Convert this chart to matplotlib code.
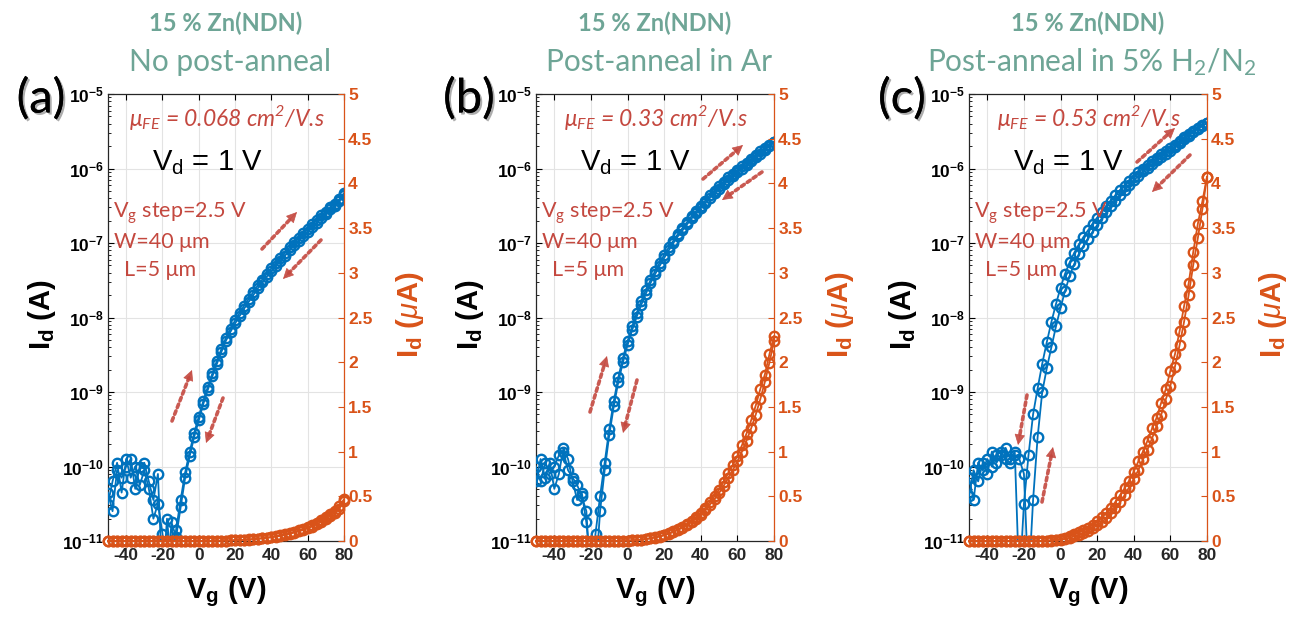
import numpy as np
import matplotlib
matplotlib.use('Agg')
import matplotlib.pyplot as plt
import matplotlib.patheffects as pe
from matplotlib.ticker import FixedLocator, LogLocator, NullFormatter

plt.rcParams['font.family'] = ['Liberation Sans', 'DejaVu Sans']
plt.rcParams['mathtext.fontset'] = 'custom'
plt.rcParams['mathtext.rm'] = 'Liberation Sans'
plt.rcParams['mathtext.it'] = 'Liberation Sans:italic'
plt.rcParams['mathtext.bf'] = 'Liberation Sans:bold'

# ---------------- data ----------------
Vg = [-50, -47.5, -45, -42.5, -40, -37.5, -35, -32.5, -30, -27.5, -25, -22.5, -20,
      -17.5, -15, -12.5, -10, -7.5, -5, -2.5, 0, 2.5, 5, 7.5, 10, 12.5, 15, 17.5,
      20, 22.5, 25, 27.5, 30, 32.5, 35, 37.5, 40, 42.5, 45, 47.5, 50, 52.5, 55,
      57.5, 60, 62.5, 65, 67.5, 70, 72.5, 75, 77.5, 80]

# log10(Id [A]) forward / reverse sweeps
a_fwd = [-10.35, -10.6, -10.05, -10.15, -10.0, -9.9, -10.3, -10.0, -9.95, -10.2,
         -10.45, -10.1, -11.6, -10.7, -11.4,
         -10.85, -10.45, -10.08, -9.8, -9.55, -9.33, -9.12, -8.93, -8.75, -8.58,
         -8.42, -8.27, -8.15, -8.04, -7.94, -7.84, -7.75, -7.66, -7.57, -7.49,
         -7.41, -7.34, -7.27, -7.2, -7.13, -7.06, -6.99, -6.93, -6.87, -6.81,
         -6.75, -6.69, -6.63, -6.58, -6.52, -6.47, -6.41, -6.33]
a_rev = [-10.5, -10.2, -9.95, -10.35, -9.9, -10.15, -10.0, -10.25, -10.05, -10.3,
         -10.7, -10.5, -10.9, -11.5, -10.75,
         -10.95, -10.55, -10.15, -9.86, -9.6, -9.38, -9.16, -8.97, -8.79, -8.62,
         -8.46, -8.31, -8.19, -8.08, -7.98, -7.88, -7.79, -7.7, -7.61, -7.53,
         -7.45, -7.38, -7.31, -7.24, -7.17, -7.1, -7.03, -6.97, -6.91, -6.85,
         -6.79, -6.73, -6.67, -6.61, -6.55, -6.5, -6.44, -6.35]

b_fwd = [-10.0, -10.2, -9.95, -10.1, -10.0, -9.85, -9.8, -10.05, -10.15, -10.25,
         -10.4, -10.6, -11.6,
         -10.9, -10.4, -9.95, -9.5, -9.12, -8.8, -8.54, -8.32, -8.12, -7.94,
         -7.78, -7.63, -7.5, -7.38, -7.27, -7.16, -7.06, -6.97, -6.88, -6.8,
         -6.72, -6.64, -6.57, -6.5, -6.43, -6.36, -6.3, -6.24, -6.18, -6.12,
         -6.07, -6.02, -5.97, -5.92, -5.87, -5.82, -5.77, -5.73, -5.68, -5.64]
b_rev = [-10.2, -9.9, -10.15, -9.95, -10.3, -10.1, -9.75, -9.9, -10.2, -10.45,
         -10.35, -10.75, -11.4, -11.5, -10.6,
         -10.05, -9.58, -9.19, -8.86, -8.6, -8.37, -8.17, -7.99, -7.83, -7.68,
         -7.54, -7.42, -7.31, -7.2, -7.1, -7.0, -6.91, -6.83, -6.75, -6.67,
         -6.6, -6.53, -6.46, -6.39, -6.33, -6.27, -6.21, -6.15, -6.1, -6.05,
         -6.0, -5.95, -5.9, -5.85, -5.8, -5.75, -5.7, -5.65]

c_fwd = [-10.15, -10.45, -9.95, -10.05, -9.9, -10.0, -9.85, -9.8, -9.9, -9.95,
         -9.85, -9.9, -10.1, -11.6, -10.45,
         -9.6, -9.0, -8.68, -8.4, -8.12, -7.87, -7.64, -7.44, -7.28, -7.15,
         -7.04, -6.94, -6.85, -6.76, -6.67, -6.59, -6.51, -6.43, -6.36, -6.29,
         -6.22, -6.16, -6.1, -6.04, -5.99, -5.94, -5.89, -5.85, -5.8, -5.76,
         -5.71, -5.66, -5.61, -5.56, -5.51, -5.47, -5.43, -5.39]
c_rev = [-10.4, -10.05, -10.2, -9.95, -10.1, -9.8, -9.95, -9.85, -9.75, -9.9,
         -9.8, -11.6, -10.5, -9.85, -9.3,
         -8.95, -8.62, -8.33, -8.06, -7.82, -7.6, -7.41, -7.26, -7.13, -7.02,
         -6.92, -6.83, -6.74, -6.66, -6.58, -6.5, -6.43, -6.36, -6.29, -6.23,
         -6.17, -6.11, -6.05, -6.0, -5.95, -5.9, -5.86, -5.81, -5.77, -5.72,
         -5.68, -5.63, -5.58, -5.54, -5.49, -5.45, -5.42, -5.39]

letters = ['(a)', '(b)', '(c)']
titles1 = ['15 % Zn(NDN)', '15 % Zn(NDN)', '15 % Zn(NDN)']
titles2 = ['No post-anneal', 'Post-anneal in Ar',
           'Post-anneal in 5% H$_\\mathregular{2}$/N$_\\mathregular{2}$']
mobility = ['0.068', '0.33', '0.53']
xticks = [-40, -20, 0, 20, 40, 60, 80]
yticks_log = [-11, -10, -9, -8, -7, -6, -5]
yticks_lin = [0, 0.5, 1, 1.5, 2, 2.5, 3, 3.5, 4, 4.5, 5]

# ---------------- style ----------------
W, H = 1291, 622
BLUE = '#0072BD'
ORANGE = '#D95319'
TEAL = '#6EA596'
RED = '#C4483F'
DARK = '#262626'
CAL = ['Lato', 'DejaVu Sans']

fig = plt.figure(figsize=(W / 100, H / 100), dpi=100)


def fx(x):
    return x / W


def fy(y):
    return 1 - y / H


boxes = [(108, 94, 344, 541), (536, 94, 774, 541), (969, 94, 1207, 541)]
series = [(a_fwd, a_rev), (b_fwd, b_rev), (c_fwd, c_rev)]

arrows = [
    [((262, 249), (297, 212)), ((321, 240), (283, 279)),
     ((172, 421), (192, 370)), ((223, 398), (206, 443))],
    [((703, 179), (743, 145)), ((762, 172), (722, 200)),
     ((590, 412), (607, 356)), ((637, 380), (623, 433))],
    [((1137, 162), (1175, 128)), ((1190, 155), (1152, 192)),
     ((1027, 395), (1018, 445)), ((1042, 502), (1053, 447))],
]

mk = dict(marker='o', ms=6.8, mfc='none', mew=1.7, lw=1.3)

vg = np.array(Vg)
for i, (l, t, r, b) in enumerate(boxes):
    ax = fig.add_axes([fx(l), fy(b), fx(r - l), (b - t) / H])
    ax.set_yscale('log')
    ax.set_xlim(-50, 80)
    ax.set_ylim(1e-11, 1e-5)
    fwd, rev = series[i]
    for s in (fwd, rev):
        ax.plot(vg, 10.0 ** np.array(s), color=BLUE, zorder=3, **mk)
    ax.set_axisbelow(True)
    ax.grid(True, which='major', color='#e3e3e3', lw=0.8)
    ax.xaxis.set_major_locator(FixedLocator(xticks))
    ax.set_xticklabels([str(v) for v in xticks], fontsize=12.5,
                       fontweight='bold', color=DARK)
    ax.yaxis.set_major_locator(FixedLocator([10.0 ** e for e in yticks_log]))
    ax.set_yticklabels(['10$^{\\mathregular{%d}}$' % e for e in yticks_log],
                       fontsize=12.5, fontweight='bold', color='black')
    ax.yaxis.set_minor_locator(LogLocator(base=10, subs=np.arange(2, 10)))
    ax.yaxis.set_minor_formatter(NullFormatter())
    ax.tick_params(axis='both', which='both', direction='in', top=True,
                   right=False, pad=3)
    ax.tick_params(axis='both', which='major', length=4, width=0.8)
    ax.tick_params(axis='y', which='minor', length=2.5, width=0.6)
    ax.tick_params(axis='x', which='major', pad=5)
    ax.spines['right'].set_visible(False)
    for sp in ('left', 'top', 'bottom'):
        ax.spines[sp].set_color(DARK)
        ax.spines[sp].set_linewidth(0.9)

    ax2 = ax.twinx()
    ax2.set_ylim(0, 5)
    for s in (fwd, rev):
        ax2.plot(vg, 1e6 * 10.0 ** np.array(s), color=ORANGE, clip_on=False,
                 zorder=4, **mk)
    ax2.yaxis.set_major_locator(FixedLocator(yticks_lin))
    ax2.set_yticklabels(['%g' % v for v in yticks_lin], fontsize=12.5,
                        fontweight='bold', color=ORANGE)
    ax2.tick_params(axis='y', direction='in', colors=ORANGE, length=4,
                    width=0.8, pad=3)
    for sp in ('left', 'top', 'bottom'):
        ax2.spines[sp].set_visible(False)
    ax2.spines['right'].set_color(ORANGE)
    ax2.spines['right'].set_linewidth(0.9)

    cx = (l + r) / 2
    # titles
    fig.text(fx(cx), fy(23), titles1[i], ha='center', va='center',
             fontsize=17, fontweight='bold', color=TEAL, family=CAL)
    fig.text(fx(cx + 4), fy(62), titles2[i], ha='center', va='center',
             fontsize=21.5, color=TEAL, family=CAL)
    # panel letter
    fig.text(fx(l - 67), fy(99), letters[i], ha='center', va='center',
             fontsize=34, color='black', family=CAL,
             path_effects=[pe.withSimplePatchShadow(offset=(1.5, -1.5),
                                                    shadow_rgbFace='#777777',
                                                    alpha=0.6), pe.Normal()])
    # axis labels
    fig.text(fx(cx), fy(592), 'V$_\\mathregular{g}$ (V)', ha='center',
             va='center', fontsize=21, fontweight='bold', color='black')
    fig.text(fx(l - 66), fy(315), 'I$_\\mathregular{d}$ (A)', ha='center',
             va='center', fontsize=21, fontweight='bold', rotation=90,
             color='black')
    fig.text(fx(r + 66), fy(315), 'I$_\\mathregular{d}$ ($\\mu$A)',
             ha='center', va='center', fontsize=21, fontweight='bold',
             rotation=90, color=ORANGE)
    # annotations
    fig.text(fx(cx + 1), fy(117),
             '\u03bc$_\\mathregular{FE}$ = %s cm$^\\mathregular{2}$/V.s' % mobility[i],
             ha='center', va='center', fontsize=16.5, style='italic',
             color=RED, family=CAL)
    fig.text(fx(l + 99), fy(163), 'V$_\\mathregular{d}$ = 1 V', ha='center',
             va='center', fontsize=21, color='black')
    fig.text(fx(l + 5), fy(213), 'V$_\\mathregular{g}$ step=2.5 V', ha='left',
             va='center', fontsize=15.5, color=RED, family=CAL)
    fig.text(fx(l + 54), fy(242), 'W=40 \u03bcm', ha='center', va='center',
             fontsize=15.5, color=RED, family=CAL)
    fig.text(fx(l + 52), fy(270), 'L=5 \u03bcm', ha='center', va='center',
             fontsize=15.5, color=RED, family=CAL)
    for (x0, y0), (x1, y1) in arrows[i]:
        fig.add_artist(matplotlib.patches.FancyArrowPatch(
            (fx(x0), fy(y0)), (fx(x1), fy(y1)), transform=fig.transFigure,
            arrowstyle='-', linestyle=(0, (1, 1)), lw=2.6, color=RED,
            shrinkA=0, shrinkB=6, alpha=0.9))
        fig.add_artist(matplotlib.patches.FancyArrowPatch(
            (fx(x0 + (x1 - x0) * 0.8), fy(y0 + (y1 - y0) * 0.8)),
            (fx(x1), fy(y1)), transform=fig.transFigure,
            arrowstyle='-|>', mutation_scale=17, lw=0.5, color=RED,
            shrinkA=0, shrinkB=0, alpha=0.9))

fig.savefig('out.png', dpi=100)
